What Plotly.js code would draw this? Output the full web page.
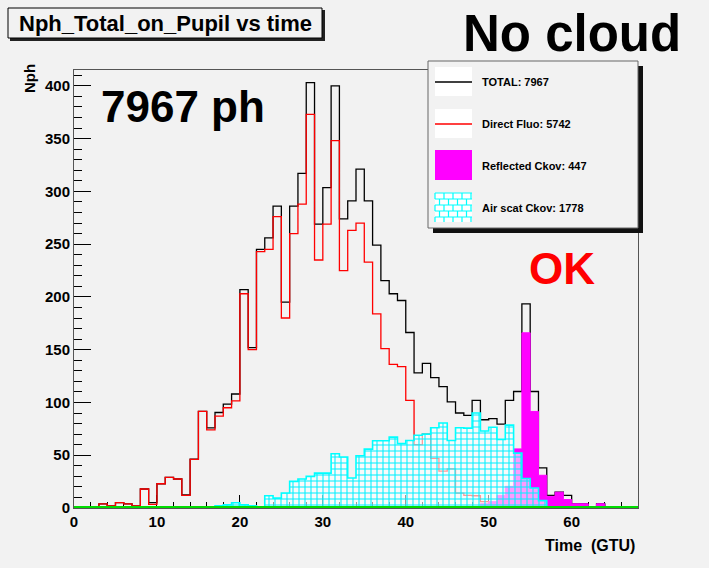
<!DOCTYPE html>
<html>
<head>
<meta charset="utf-8">
<script src="https://cdn.plot.ly/plotly-3.0.1.min.js"></script>
<style>
html,body{margin:0;padding:0;background:#f2f2f2;}
#chart{width:709px;height:568px;}
</style>
</head>
<body>
<div id="chart"></div>
<script>
// ---- data (photons per 1-GTU time bin) ----
const timeBins = [0,1,2,3,4,5,6,7,8,9,10,11,12,13,14,15,16,17,18,19,20,21,22,23,24,25,26,27,28,29,30,31,32,33,34,35,36,37,38,39,40,41,42,43,44,45,46,47,48,49,50,51,52,53,54,55,56,57,58,59,60,61,62,63,64,65,66,67];

const totalPh = [0,0,0,4,2,5,4,2,18,5,
  23,29,27.5,12.3,46.4,91.5,76,90.5,98.5,108,
  207,152,245,256,286,195,286,317,403,269,
  303.6,400,274,291,321,291,249,215.5,203,196.6,
  166.3,128,137,123.5,115,100.5,90,87.7,102,83.6,
  84.6,79.5,102,110.4,193.5,110.4,38,12,15,12,
  4,4,0,4,0,0,0,0];

const directFluo = [0,0,0,4,2,5,4,2,18,3.5,
  23,29,27.5,12,46,91.5,74,87,95,101.5,
  203,150,243,245,276,180,260,288,373,235,
  269,348,225,263,270,233,184,151,136,134,
  102,60,70,47,35,37,14,12,11.6,6,
  2,2,3,2,1,0,0,0,0,0,
  0,0,0,0,0,0,0,0];

const reflectedCkov = [0,0,0,0,0,0,0,0,0,0,
  0,0,0,0,0,0,0,0,0,0,
  0,0,0,0,0,0,0,0,0,0,
  0,0,0,0,0,0,0,0,0,0,
  0,0,0,0,0,0,0,0,1,4,
  6,12,20.5,56,166,91.5,31,11,15,8,
  4,4,0,4,0,0,0,0];

const airScatCkov = [0,0,0,0,0,0,0,0,0,0,
  0,0,0,0,0,0,1,2,3,5,
  3,2,1,11.6,9.4,14.2,25.2,27.5,30,33,
  33,51.4,48.3,28.4,49.5,55.8,63.7,63.7,67.2,61,
  64,69,70,76,80.5,64,76,75.7,90,73,
  76.5,65,78.5,52,28,19,7,1,0,0,
  0,0,0,0,0,0,0,0];

const groundLevel = [0,0,0,0,0,0,0,0,0,0,0,0,0,0,0,0,0,0,0,0,0,0,0,0,0,0,0,0,0,0,0,0,0,0,0,0,0,0,0,0,0,0,0,0,0,0,0,0,0,0,0,0,0,0,0,0,0,0,0,0,0,0,0,0,0,0,0,0];

const legendLabels = ["TOTAL: 7967", "Direct Fluo: 5742", "Reflected Ckov: 447", "Air scat Ckov: 1778"];
const chartTitle = "Nph_Total_on_Pupil vs time";
const xTitle = "Time  (GTU)";
const yTitle = "Nph";

// ---- helpers: step histogram outline from bin low edges ----
function stepX(bins){ return bins.concat([bins[bins.length-1] + (bins[1]-bins[0])]); }
function stepY(vals){ return vals.concat([vals[vals.length-1]]); }

const FONT = '"Liberation Sans", Arial, Helvetica, sans-serif';

const traces = [
  {type:'scatter', mode:'lines', x:stepX(timeBins), y:stepY(totalPh),
   line:{shape:'hv', color:'#000000', width:1.3}, showlegend:false, hoverinfo:'skip'},
  {type:'scatter', mode:'lines', x:stepX(timeBins), y:stepY(directFluo),
   line:{shape:'hv', color:'#ff0000', width:1.3}, showlegend:false, hoverinfo:'skip'},
  {type:'scatter', mode:'lines', x:stepX(timeBins), y:stepY(reflectedCkov),
   line:{shape:'hv', color:'#ff00ff', width:1}, fill:'tozeroy', fillcolor:'#ff00ff',
   showlegend:false, hoverinfo:'skip'},
  {type:'scatter', mode:'lines', x:stepX(timeBins), y:stepY(airScatCkov),
   line:{shape:'hv', color:'#00ffff', width:1.6}, fill:'tozeroy',
   fillpattern:{shape:'+', fgcolor:'#00f0ff', bgcolor:'rgba(255,255,255,0.6)', size:6, solidity:0.32},
   showlegend:false, hoverinfo:'skip'},
  {type:'scatter', mode:'lines', x:stepX(timeBins), y:stepY(groundLevel),
   line:{shape:'hv', color:'#00dd00', width:4}, showlegend:false, hoverinfo:'skip'}
];

// ---- decoration geometry (pixels -> paper) ----
const L=74, R=638, T=70, B=508;
const px = v => (v-L)/(R-L);
const py = v => (B-v)/(B-T);
function rect(x0,y0,x1,y1,fill,line,lw){
  return {type:'rect', xref:'paper', yref:'paper', x0:px(x0), x1:px(x1), y0:py(y1), y1:py(y0),
          fillcolor:fill, line:{color:line||fill, width:(lw===undefined?0:lw)}, layer:'above'};
}
function hline(x0,x1,y,color,w){
  return {type:'line', xref:'paper', yref:'paper', x0:px(x0), x1:px(x1), y0:py(y), y1:py(y),
          line:{color:color, width:w}, layer:'above'};
}
// brick symbol path for legend
function brickPath(x0,y0,x1,y1,rowH,brickW){
  let p='';
  for(let y=y0; y<=y1+0.01; y+=rowH){ p += `M${px(x0)},${py(y)}L${px(x1)},${py(y)}`; }
  let row=0;
  for(let y=y0; y<y1-0.01; y+=rowH, row++){
    const off = (row%2)? brickW/2 : 0;
    for(let x=x0+off; x<=x1; x+=brickW){ p += `M${px(x)},${py(y)}L${px(x)},${py(Math.min(y+rowH,y1))}`; }
  }
  return {type:'path', xref:'paper', yref:'paper', path:p, line:{color:'#00ffff', width:1.2}, layer:'above'};
}

const entryY = [82, 124, 166, 208];
const shapes = [
  // title box with shadow
  rect(10,10,325,41,'#222222'),
  rect(8,8,322,38,'#f2f2f2','#000000',1),
  // legend box with shadow
  rect(433,66,643,233,'#111111'),
  rect(428,61,638,228,'#f2f2f2','#666666',1),
  // entry symbols
  rect(435,entryY[0]-15,472,entryY[0]+14,'#ffffff'),
  hline(435,472,entryY[0],'#000000',1.3),
  rect(435,entryY[1]-15,472,entryY[1]+14,'#ffffff'),
  hline(435,472,entryY[1],'#ff0000',1.3),
  rect(435,entryY[2]-16,472,entryY[2]+14,'#ff00ff'),
  rect(435,entryY[3]-15,472,entryY[3]+14,'#ffffff'),
  brickPath(435,entryY[3]-15,472,entryY[3]+14,6,9)
];

function ann(text,x,y,size,opts){
  return Object.assign({text:text, xref:'paper', yref:'paper', x:px(x), y:py(y), showarrow:false,
    font:{family:FONT, size:size, color:'#000000', weight:'bold'}, xanchor:'left', yanchor:'middle'}, opts||{});
}
const annotations = [
  ann(chartTitle,165,23,22,{xanchor:'center'}),
  ann('No cloud',572,34,51,{xanchor:'center'}),
  ann('7967 ph',99,107,44),
  ann('OK',562,268,44,{xanchor:'center', font:{family:FONT,size:44,color:'#ff0000',weight:'bold'}}),
  ann(yTitle,30,79,15,{xanchor:'center', textangle:-90}),
  ann(xTitle,637,545,16,{xanchor:'right'}),
  ann(legendLabels[0],480,entryY[0],11),
  ann(legendLabels[1],480,entryY[1],11),
  ann(legendLabels[2],480,entryY[2],11),
  ann(legendLabels[3],480,entryY[3],11)
];

const axisFont = {family:FONT, size:15, color:'#000000', weight:'bold'};
const layout = {
  width:709, height:568,
  margin:{l:L, r:709-R, t:T, b:568-B, pad:0},
  paper_bgcolor:'#f2f2f2', plot_bgcolor:'#f2f2f2',
  showlegend:false,
  xaxis:{range:[0,68], tickmode:'linear', tick0:0, dtick:10, ticks:'inside', ticklen:13, tickwidth:1, tickcolor:'#000',
    minor:{dtick:2, ticks:'inside', ticklen:6, tickwidth:1, tickcolor:'#000', showgrid:false},
    showline:true, mirror:true, linecolor:'#555', linewidth:1, showgrid:false, zeroline:false,
    layer:'below traces', tickfont:axisFont, fixedrange:true},
  yaxis:{range:[0,415], tickmode:'linear', tick0:0, dtick:50, ticks:'inside', ticklen:17, tickwidth:1, tickcolor:'#000',
    minor:{dtick:10, ticks:'inside', ticklen:8, tickwidth:1, tickcolor:'#000', showgrid:false},
    showline:true, mirror:true, linecolor:'#555', linewidth:1, showgrid:false, zeroline:false,
    tickfont:axisFont, fixedrange:true},
  shapes:shapes,
  annotations:annotations
};

Plotly.newPlot('chart', traces, layout, {displayModeBar:false, staticPlot:true});
</script>
</body>
</html>
